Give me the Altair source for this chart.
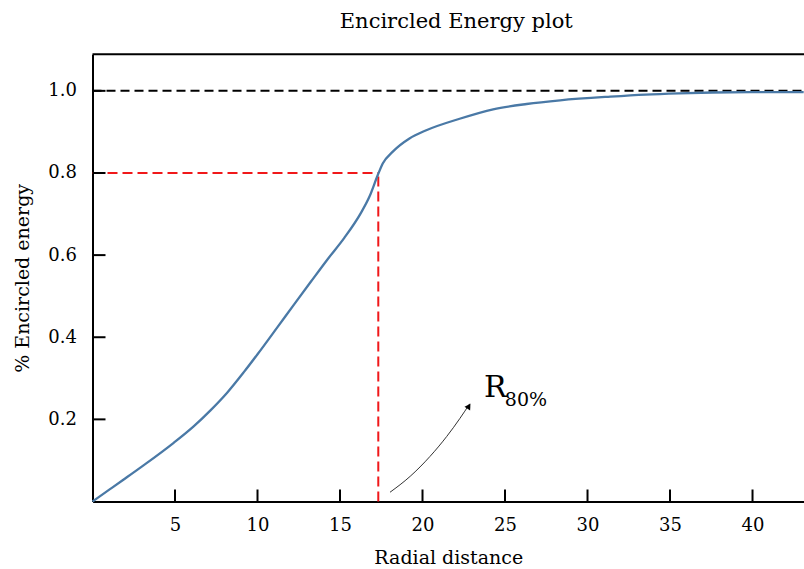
import altair as alt
import pandas as pd

# ---- data ----
radius = [0, 1.06, 1.87, 3.09, 4.92, 6.13, 7.15, 8.16, 9.17, 9.99, 11.2, 12.22, 13.23,
          14.25, 15.26, 16.27, 16.78, 17.29, 17.59, 18.2, 19.21, 20.23, 22.25, 24.28,
          26.31, 28.34, 31.38, 33.51, 35.54, 37.57, 40.61, 43.1]
energy = [0, 0.03, 0.053, 0.088, 0.143, 0.183, 0.222, 0.265, 0.315, 0.358, 0.424, 0.48,
          0.535, 0.59, 0.642, 0.703, 0.742, 0.795, 0.823, 0.852, 0.884, 0.904, 0.932,
          0.955, 0.968, 0.977, 0.986, 0.991, 0.994, 0.996, 0.997, 0.997]

r80 = 17.32
level80 = 0.8
full = 1.0
x_ticks = [5, 10, 15, 20, 25, 30, 35, 40]
y_ticks = [0.2, 0.4, 0.6, 0.8, 1.0]
x_domain = [0, 43.12]
y_domain = [0, 1.089]

arrow_x = [18.03, 19.25, 20.45, 21.46, 22.27, 22.86]
arrow_y = [0.0225, 0.0612, 0.1096, 0.158, 0.2025, 0.238]
head_x = [22.81]
head_y = [0.232]
label_main = "R"
label_sub = "80%"
label_x = [23.72]
label_y = [0.254]
sub_x = [24.99]
sub_y = [0.232]

W = 711.5
H = 447.2
FONT = "DejaVu Serif"

xs = alt.Scale(domain=x_domain, nice=False, zero=False)
ys = alt.Scale(domain=y_domain, nice=False, zero=False)

curve_df = pd.DataFrame({"r": radius, "e": energy})

base_x = alt.X("r:Q", scale=xs,
               axis=alt.Axis(values=x_ticks, title="Radial distance", format="d"))
base_y = alt.Y("e:Q", scale=ys,
               axis=alt.Axis(values=y_ticks, title="% Encircled energy", format=".1f"))

curve = alt.Chart(curve_df).mark_line(
    color="#4a79a6", strokeWidth=2.3, interpolate="monotone"
).encode(x=base_x, y=base_y)

# dashed reference lines
hline_full = alt.Chart(pd.DataFrame({"r": [x_domain[0]], "r2": [x_domain[1]], "e": [full]})).mark_rule(
    color="black", strokeWidth=2, strokeDash=[9, 5]
).encode(x=alt.X("r:Q", scale=xs), x2="r2:Q", y=alt.Y("e:Q", scale=ys))

hline_80 = alt.Chart(pd.DataFrame({"r": [x_domain[0]], "r2": [r80], "e": [level80]})).mark_rule(
    color="#f0181a", strokeWidth=2, strokeDash=[10, 5]
).encode(x=alt.X("r:Q", scale=xs), x2="r2:Q", y=alt.Y("e:Q", scale=ys))

vline_80 = alt.Chart(pd.DataFrame({"r": [r80], "e": [0], "e2": [level80]})).mark_rule(
    color="#f0181a", strokeWidth=2, strokeDash=[10, 5]
).encode(x=alt.X("r:Q", scale=xs), y=alt.Y("e:Q", scale=ys), y2="e2:Q")

# top frame line
top_frame = alt.Chart(pd.DataFrame({"r": [x_domain[0]], "r2": [x_domain[1]], "e": [y_domain[1]]})).mark_rule(
    color="black", strokeWidth=2
).encode(x=alt.X("r:Q", scale=xs), x2="r2:Q", y=alt.Y("e:Q", scale=ys))

# inward ticks
xt = alt.Chart(pd.DataFrame({"r": x_ticks})).mark_rule(color="black", strokeWidth=2).encode(
    x=alt.X("r:Q", scale=xs), y=alt.value(H - 12), y2=alt.value(H))
yt = alt.Chart(pd.DataFrame({"e": y_ticks})).mark_rule(color="black", strokeWidth=2).encode(
    y=alt.Y("e:Q", scale=ys), x=alt.value(0), x2=alt.value(13))

# annotation arrow
arrow = alt.Chart(pd.DataFrame({"r": arrow_x, "e": arrow_y, "o": list(range(len(arrow_x)))})).mark_line(
    color="#333333", strokeWidth=1, interpolate="monotone"
).encode(x=alt.X("r:Q", scale=xs), y=alt.Y("e:Q", scale=ys), order="o:O")
head = alt.Chart(pd.DataFrame({"r": head_x, "e": head_y})).mark_point(
    shape="triangle-up", filled=True, color="black", size=45, angle=33, opacity=1
).encode(x=alt.X("r:Q", scale=xs), y=alt.Y("e:Q", scale=ys))

lab_r = alt.Chart(pd.DataFrame({"r": label_x, "e": label_y, "t": [label_main]})).mark_text(
    font=FONT, fontSize=30, align="left", baseline="alphabetic", color="black"
).encode(x=alt.X("r:Q", scale=xs), y=alt.Y("e:Q", scale=ys), text="t:N")
lab_s = alt.Chart(pd.DataFrame({"r": sub_x, "e": sub_y, "t": [label_sub]})).mark_text(
    font=FONT, fontSize=19, align="left", baseline="alphabetic", color="black"
).encode(x=alt.X("r:Q", scale=xs), y=alt.Y("e:Q", scale=ys), text="t:N")

chart = alt.layer(
    hline_full, hline_80, vline_80, curve, top_frame, xt, yt, arrow, head, lab_r, lab_s
).properties(
    width=W, height=H,
    title=alt.TitleParams("Encircled Energy plot", font=FONT, fontSize=21, fontWeight="normal",
                          color="black", baseline="alphabetic", offset=4, anchor="middle", dx=8),
    autosize=alt.AutoSizeParams(type="none"),
    padding={"left": 92.5, "top": 54.3, "right": 0, "bottom": 67.5},
).configure_view(stroke=None).configure_axis(
    grid=False, ticks=False, domainColor="black", domainWidth=2,
    labelFont=FONT, labelFontSize=18, labelColor="black",
    titleFont=FONT, titleFontSize=19, titleFontWeight="normal", titleColor="black",
).configure_axisX(
    labelPadding=15, titleBaseline="alphabetic", titleY=62
).configure_axisY(
    labelPadding=16, titleBaseline="alphabetic", titleX=-64
)

chart.save("out.html", embed_options={"renderer": "svg", "actions": False})
